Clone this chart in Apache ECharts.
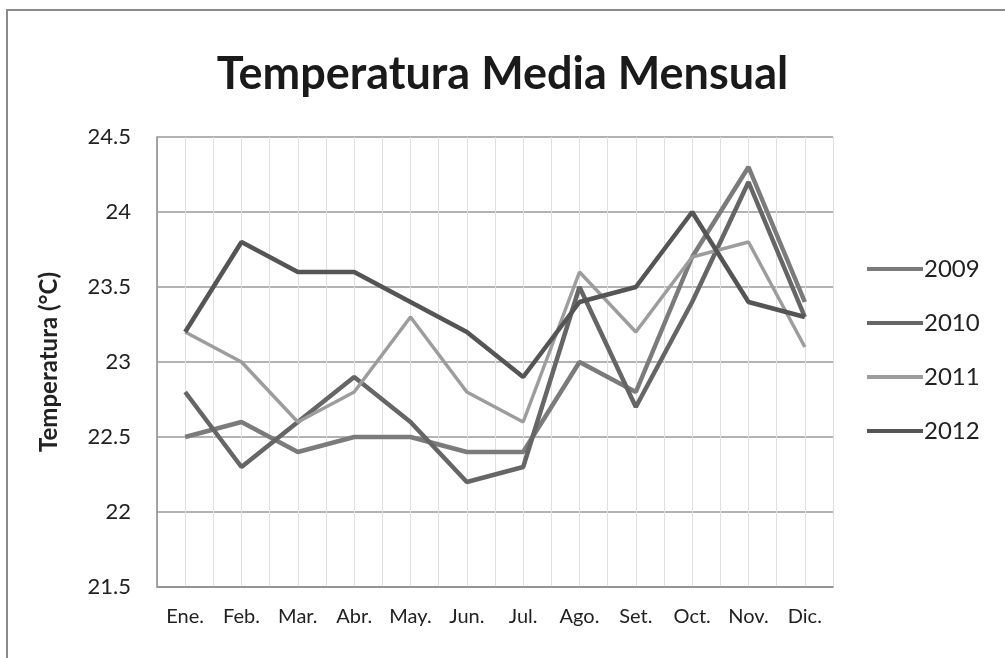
<!DOCTYPE html>
<html><head><meta charset="utf-8">
<script src="https://cdn.jsdelivr.net/npm/echarts@6/dist/echarts.min.js"></script>
<style>html,body{margin:0;padding:0;background:#fff}#c{width:1005px;height:658px}</style>
</head><body><div id="c"></div>
<script>
const months = ['Ene.','Feb.','Mar.','Abr.','May.','Jun.','Jul.','Ago.','Set.','Oct.','Nov.','Dic.'];
const y2009 = [22.5,22.6,22.4,22.5,22.5,22.4,22.4,23.0,22.8,23.7,24.3,23.4];
const y2010 = [22.8,22.3,22.6,22.9,22.6,22.2,22.3,23.5,22.7,23.4,24.2,23.3];
const y2011 = [23.2,23.0,22.6,22.8,23.3,22.8,22.6,23.6,23.2,23.7,23.8,23.1];
const y2012 = [23.2,23.8,23.6,23.6,23.4,23.2,22.9,23.4,23.5,24.0,23.4,23.3];
const seriesNames = ['2009','2010','2011','2012'];
const seriesData = [y2009,y2010,y2011,y2012];
const colors = ['#7b7b7b','#666666','#9d9d9d','#555555'];
const widths = [4.5,4.5,3.5,4.5];
const font = 'Lato, "Open Sans", sans-serif';
const chart = echarts.init(document.getElementById('c'));
chart.setOption({
  animation:false,
  backgroundColor:'#fff',
  graphic:[{type:'rect',shape:{x:7,y:10,width:1010,height:660},style:{fill:'none',stroke:'#8a8a8a',lineWidth:2}}],
  title:{text:'Temperatura Media Mensual',left:'center',top:47,
    textStyle:{fontFamily:font,fontSize:45,fontWeight:'bold',color:'#1a1a1a'}},
  legend:{orient:'vertical',left:862,top:252,itemGap:30,itemWidth:56,itemHeight:25,icon:'path://M0,10.5 L56,10.5 L56,14.5 L0,14.5 Z',
    textStyle:{fontFamily:font,fontSize:24,color:'#222',padding:[0,0,0,-4]},data:seriesNames},
  grid:{left:157,right:172,top:137,bottom:71},
  xAxis:[{type:'category',data:months,boundaryGap:true,
    axisLine:{lineStyle:{color:'#8a8a8a',width:1.5}},axisTick:{show:false},
    axisLabel:{fontFamily:font,fontSize:20,color:'#222',margin:20},splitLine:{show:false}},
    {type:'value',min:0,max:12,interval:0.5,show:true,position:'bottom',axisLine:{show:false},axisTick:{show:false},axisLabel:{show:false},
     splitLine:{show:true,lineStyle:{color:'#e0e0e0',width:1}}}],
  yAxis:{type:'value',min:21.5,max:24.5,interval:0.5,name:'Temperatura (°C)',nameLocation:'middle',nameGap:96,
    nameTextStyle:{fontFamily:font,fontSize:24,fontWeight:'bold',color:'#222'},
    axisLine:{show:true,lineStyle:{color:'#8a8a8a',width:1.5}},axisTick:{show:false},
    axisLabel:{fontFamily:font,fontSize:22,color:'#222',margin:26,formatter:v=>String(v)},
    splitLine:{lineStyle:{color:'#9a9a9a',width:1.5}}},
  series:seriesNames.map((n,i)=>({name:n,type:'line',xAxisIndex:0,data:seriesData[i],symbol:'none',
    lineStyle:{color:colors[i],width:widths[i]},itemStyle:{color:colors[i]}}))
});
</script></body></html>
